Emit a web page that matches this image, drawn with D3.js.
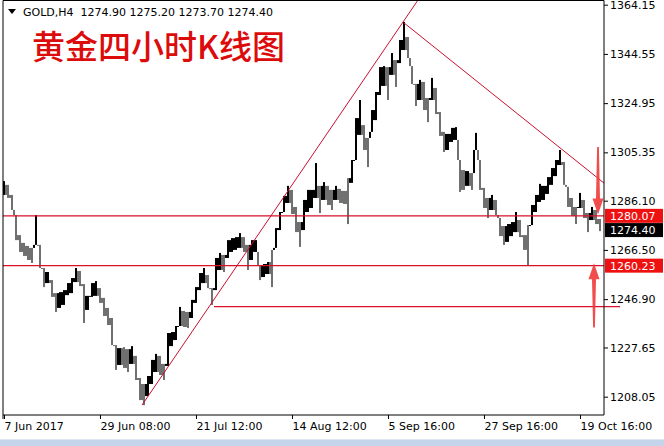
<!DOCTYPE html>
<html><head><meta charset="utf-8">
<script src="https://cdn.jsdelivr.net/npm/d3@7"></script>
<style>body{margin:0;background:#fff;overflow:hidden;} svg{display:block;}</style>
</head><body>
<svg id="c" width="664" height="446"></svg>
<script>
// ---- data (4-hour gold bars, aggregated) ----
const highs = [1293.9,1292.4,1288.4,1280.4,1272.4,1269.3,1268.1,1267.3,1280.4,1268.5,
1259.3,1257.7,1254.5,1249.3,1249.7,1250.5,1253.3,1255.3,1259.3,1258.1,
1252.9,1248.2,1253.3,1254.1,1251.3,1247.4,1243.4,1239.4,1228.6,1227.4,
1227.8,1227.0,1228.2,1224.3,1215.5,1213.1,1216.3,1222.7,1225.1,1224.3,
1221.1,1233.4,1233.8,1236.2,1243.8,1242.2,1241.8,1246.6,1251.7,1257.3,
1259.3,1256.5,1251.3,1263.3,1265.3,1264.5,1270.4,1271.2,1271.6,1273.2,
1271.6,1268.5,1270.4,1270.4,1260.1,1260.9,1261.7,1266.5,1275.2,1281.6,
1288.0,1292.0,1290.4,1283.6,1277.6,1286.4,1290.4,1290.4,1301.1,1292.0,
1293.5,1292.0,1290.4,1292.0,1290.8,1290.0,1295.1,1302.3,1319.0,1326.2,
1316.2,1311.1,1322.2,1329.4,1339.3,1339.7,1339.3,1344.9,1342.1,1350.1,
1357.3,1351.3,1339.7,1332.6,1334.2,1333.4,1327.0,1335.0,1331.0,1321.4,
1313.5,1312.7,1315.1,1315.4,1302.3,1298.3,1297.9,1297.1,1313.1,1302.3,
1291.2,1287.2,1288.4,1286.4,1279.2,1276.0,1276.8,1277.6,1281.6,1278.4,
1272.4,1276.4,1284.4,1288.4,1292.8,1292.0,1295.5,1299.1,1302.3,1306.3,
1301.5,1291.6,1287.2,1283.6,1289.2,1286.4,1281.2,1283.6,1282.4,1278.8];
const lows = [1288.4,1287.2,1282.4,1270.4,1265.7,1264.1,1262.5,1261.3,1268.5,1259.3,
1251.7,1253.3,1247.8,1241.8,1243.4,1244.6,1248.5,1249.3,1253.7,1252.1,
1237.4,1242.6,1247.8,1248.2,1245.4,1240.2,1236.6,1228.6,1218.7,1220.7,
1219.5,1217.9,1221.1,1214.7,1206.7,1204.7,1208.3,1213.1,1217.9,1216.7,
1214.7,1220.3,1228.2,1230.6,1236.2,1235.8,1235.4,1239.4,1245.4,1250.5,
1253.3,1251.3,1244.6,1250.5,1258.5,1257.7,1263.3,1265.7,1266.5,1267.3,
1265.7,1258.5,1262.5,1265.7,1254.5,1255.7,1256.9,1251.7,1267.3,1274.4,
1281.6,1285.2,1280.8,1273.6,1267.7,1274.4,1281.6,1283.2,1287.2,1281.2,
1286.4,1284.4,1282.4,1286.4,1285.2,1284.8,1276.8,1293.2,1302.3,1312.3,
1306.3,1299.5,1313.5,1318.2,1328.2,1331.8,1326.2,1336.2,1331.4,1340.9,
1346.1,1342.9,1332.6,1323.8,1326.2,1322.2,1317.4,1326.2,1320.6,1311.9,
1305.5,1306.3,1309.5,1310.3,1289.6,1290.4,1292.0,1290.4,1306.3,1290.4,
1283.2,1279.2,1282.4,1280.4,1272.0,1268.5,1269.7,1272.0,1273.6,1271.6,
1266.5,1260.1,1276.4,1281.6,1285.6,1286.4,1288.8,1292.4,1295.9,1300.3,
1292.4,1283.6,1280.0,1276.8,1283.2,1279.2,1273.6,1278.4,1276.8,1274.0];
const yTicks = [1364.15,1344.55,1324.95,1305.35,1286.10,1266.50,1246.90,1227.65,1208.05];
const xTickIndex = [0,24,48,72,96,120,144];
const xTickLabels = ["7 Jun 2017","29 Jun 08:00","21 Jul 12:00","14 Aug 12:00","5 Sep 16:00","27 Sep 16:00","19 Oct 16:00"];
const levelsLabeled = [1280.07, 1260.23];
const levelPlain = {from: 52.5, price: 1243.9};
const lastPrice = 1274.40;
const header = "GOLD,H4  1274.90 1275.20 1273.70 1274.40";
const title = "黄金四小时K线图";
const trendUp = [[34.5, 1204.7], [103.5, 1366.0]];
const trendDown = [[100, 1356.9], [150.25, 1292.8]];
const arrowDown = {i: 148.5, from: 1307.5, to: 1280.6};
const arrowUp = {i: 147.5, from: 1235.6, to: 1261.2};

// ---- drawing ----
const svg = d3.select("#c");
const L = 3, R = 604, T = 0.5, B = 415;
const x = d3.scaleLinear().domain([0, 150]).range([4, 604]);
const y = d3.scaleLinear().domain([1208.05, 1364.15]).range([396.7, 4.7]);
const FONT = "'DejaVu Sans', Tahoma, sans-serif";

svg.append("rect").attr("width", 664).attr("height", 446).attr("fill", "#fff");
svg.append("defs").append("clipPath").attr("id", "clip")
  .append("rect").attr("x", L).attr("y", T).attr("width", R - L).attr("height", B - T);

const plot = svg.append("g").attr("clip-path", "url(#clip)");

// bars: thin high-low strokes plus connectors to the next bar
const mids = highs.map((h, i) => (h + lows[i]) / 2);
const col = i => (i === 0 || mids[i] >= mids[i - 1]) ? "#000" : "#707070";
const conn = d3.range(highs.length - 1).map(i => {
  const top = Math.min(highs[i], highs[i + 1]);
  const bot = Math.max(lows[i], lows[i + 1]);
  return top >= bot ? [top, bot, i + 1] : [Math.max(bot, top), Math.min(bot, top), i + 1];
});
plot.selectAll("rect.conn").data(conn).join("rect")
  .attr("class", "conn")
  .attr("x", d => x(d[2] - 1) + 1)
  .attr("width", d => x(d[2]) - x(d[2] - 1) - 2)
  .attr("y", d => y(d[0]))
  .attr("height", d => Math.max(1, y(d[1]) - y(d[0])))
  .attr("fill", d => col(d[2]));
plot.selectAll("rect.bar").data(highs).join("rect")
  .attr("class", "bar")
  .attr("x", (d, i) => x(i) - 1)
  .attr("width", 2)
  .attr("y", d => y(d))
  .attr("height", (d, i) => Math.max(1, y(lows[i]) - y(d)))
  .attr("fill", (d, i) => col(i));

// horizontal levels
levelsLabeled.forEach(p => {
  plot.append("line").attr("x1", L).attr("x2", R).attr("y1", y(p)).attr("y2", y(p))
    .attr("stroke", "#d9112a").attr("stroke-width", 1.2);
});
svg.append("line").attr("x1", x(levelPlain.from)).attr("x2", 620)
  .attr("y1", y(levelPlain.price)).attr("y2", y(levelPlain.price))
  .attr("stroke", "#d9112a").attr("stroke-width", 1.2);

// trend lines
const ln = d3.line().x(d => x(d[0])).y(d => y(d[1]));
[trendUp, trendDown].forEach(t => {
  plot.append("path").attr("d", ln(t)).attr("fill", "none")
    .attr("stroke", "#c8102e").attr("stroke-width", 1);
});

// arrows
function arrow(a, dir) {
  const cx = x(a.i), y0 = y(a.from), y1 = y(a.to);
  const headLen = 16 * dir, headW = 5.5;
  const yb = y1 - headLen;
  const pts = [
    [cx - 0.9, y0], [cx + 0.9, y0],
    [cx + 2, yb], [cx + headW, yb], [cx, y1], [cx - headW, yb], [cx - 2, yb]
  ];
  svg.append("polygon").attr("points", pts.map(p => p.join(",")).join(" "))
    .attr("fill", "#f03a3a").attr("fill-opacity", 0.9);
}
arrow(arrowDown, 1);
arrow(arrowUp, -1);

// frame
svg.append("path")
  .attr("d", `M${L},419 V${T} H${R} V${B} H${L}`)
  .attr("fill", "none").attr("stroke", "#000").attr("stroke-width", 1);

// right axis
const ay = svg.append("g").attr("transform", `translate(${R},0)`)
  .call(d3.axisRight(y).tickValues(yTicks).tickFormat(d3.format(".2f")).tickSize(4).tickSizeOuter(0));
ay.select(".domain").remove();
ay.selectAll("text").attr("font-family", FONT).attr("font-size", 11).attr("fill", "#000").attr("x", 6);
ay.selectAll("line").attr("stroke", "#000");

// bottom axis
const ax = svg.append("g").attr("transform", `translate(0,${B})`)
  .call(d3.axisBottom(x).tickValues(xTickIndex).tickFormat((d, k) => xTickLabels[k]).tickSize(4).tickSizeOuter(0));
ax.select(".domain").remove();
ax.selectAll("text").attr("font-family", FONT).attr("font-size", 11).attr("fill", "#000")
  .attr("text-anchor", "start").attr("dx", 0);
ax.selectAll("line").attr("stroke", "#000");

// price boxes
function priceBox(p, bg) {
  const cy = y(p);
  svg.append("rect").attr("x", 605).attr("y", cy - 7).attr("width", 58).attr("height", 14).attr("fill", bg);
  svg.append("text").attr("x", 610).attr("y", cy).attr("dy", "0.35em")
    .attr("font-family", FONT).attr("font-size", 11).attr("fill", "#fff").text(d3.format(".2f")(p));
}
levelsLabeled.forEach(p => priceBox(p, "#ee1111"));
priceBox(lastPrice, "#000");

// header
svg.append("polygon").attr("points", "8,9 16,9 12,14").attr("fill", "#000");
svg.append("text").attr("x", 23).attr("y", 16).attr("font-family", FONT).attr("font-size", 11)
  .attr("fill", "#000").attr("xml:space", "preserve").style("white-space", "pre").text(header);

// big title
svg.append("text").attr("x", 32).attr("y", 59)
  .attr("font-family", "'Noto Sans CJK SC', sans-serif").attr("font-size", 33).attr("font-weight", 500)
  .attr("fill", "#dc0c0c").text(title);

// bottom strip
svg.append("rect").attr("x", 0).attr("y", 439).attr("width", 664).attr("height", 7).attr("fill", "#c4d4ea");
svg.append("line").attr("x1", 0).attr("x2", 664).attr("y1", 439.5).attr("y2", 439.5).attr("stroke", "#dde6f2");
</script>
</body></html>
